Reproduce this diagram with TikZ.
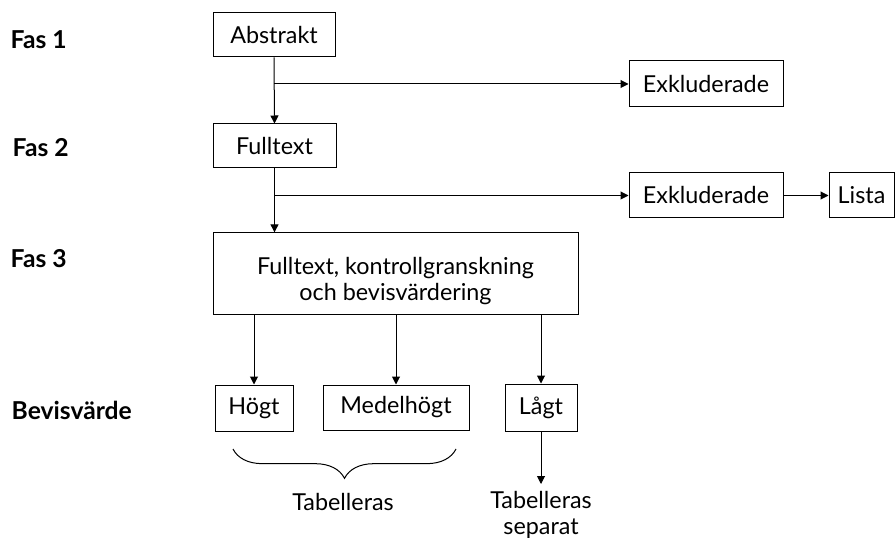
\documentclass[tikz,border=0pt]{standalone}
\usepackage{fontspec}
\setmainfont{Lato}
\usetikzlibrary{arrows.meta,decorations.pathreplacing}
\begin{document}
\begin{tikzpicture}[x=0.75pt,y=-0.75pt,
  font=\fontsize{17.5}{19}\selectfont,
  box/.style={draw,line width=0.75pt,inner sep=0pt,align=center},
  txt/.style={inner sep=0pt,align=center},
  lab/.style={anchor=west,font=\fontsize{18.5}{20}\selectfont\bfseries},
  arr/.style={line width=0.75pt,-{Triangle[length=6pt,width=6pt]}},
  ln/.style={line width=0.75pt}]
\useasboundingbox (0,0) rectangle (895,541);
% left labels
\node[lab] (l1) at (6,40) {Fas 1};
\node[lab] (l2) at (8,148) {Fas 2};
\node[lab] (l3) at (6,259) {Fas 3};
\node[lab] (l4) at (7,410) {Bevisvärde};
% boxes
\node[box,minimum width=91.5pt,minimum height=33pt] (abs) at (274,35) {Abstrakt};
\node[box,minimum width=92.25pt,minimum height=33pt] (ft) at (274.5,146) {Fulltext};
\node[box,minimum width=115.5pt,minimum height=34.5pt] (ex1) at (706,84) {Exkluderade};
\node[box,minimum width=115.5pt,minimum height=33.75pt] (ex2) at (706,195.5) {Exkluderade};
\node[box,minimum width=48.75pt,minimum height=33.75pt] (lista) at (861.5,195.5) {Lista};
\node[box,minimum width=273.75pt,minimum height=61pt] (f3) at (395.5,273.5) {};
\node[txt] (f3t) at (395.5,281) {Fulltext, kontrollgranskning\\och bevisvärdering};
\node[box,minimum width=58.5pt,minimum height=34.5pt] (hog) at (254,408) {Högt};
\node[box,minimum width=109.5pt,minimum height=33.75pt] (med) at (396,407.5) {Medelhögt};
\node[box,minimum width=54pt,minimum height=35.25pt] (lag) at (541,407.5) {Lågt};
% text nodes
\node[txt] (tab) at (343,502) {Tabelleras};
\node[txt] (tabs) at (541,515) {Tabelleras\\separat};
\coordinate (tabsin) at (541,484);
% connectors
\coordinate (b1) at (abs.south |- ex1.west);
\coordinate (b2) at (ft.south |- ex2.west);
\draw[arr] (abs.south) -- (ft.north);
\draw[arr] (b1) -- (ex1.west);
\draw[arr] (ft.south) -- (f3.north -| ft.south);
\draw[arr] (b2) -- (ex2.west);
\draw[arr] (ex2.east) -- (lista.west);
\draw[arr] (f3.south -| hog.north) -- (hog.north);
\draw[arr] (f3.south -| med.north) -- (med.north);
\draw[arr] (f3.south -| lag.north) -- (lag.north);
\draw[arr] (lag.south) -- (tabsin);
% brace
\draw[ln,decorate,decoration={brace,mirror,amplitude=22pt}] (233,449) -- (456,449);
\end{tikzpicture}
\end{document}
